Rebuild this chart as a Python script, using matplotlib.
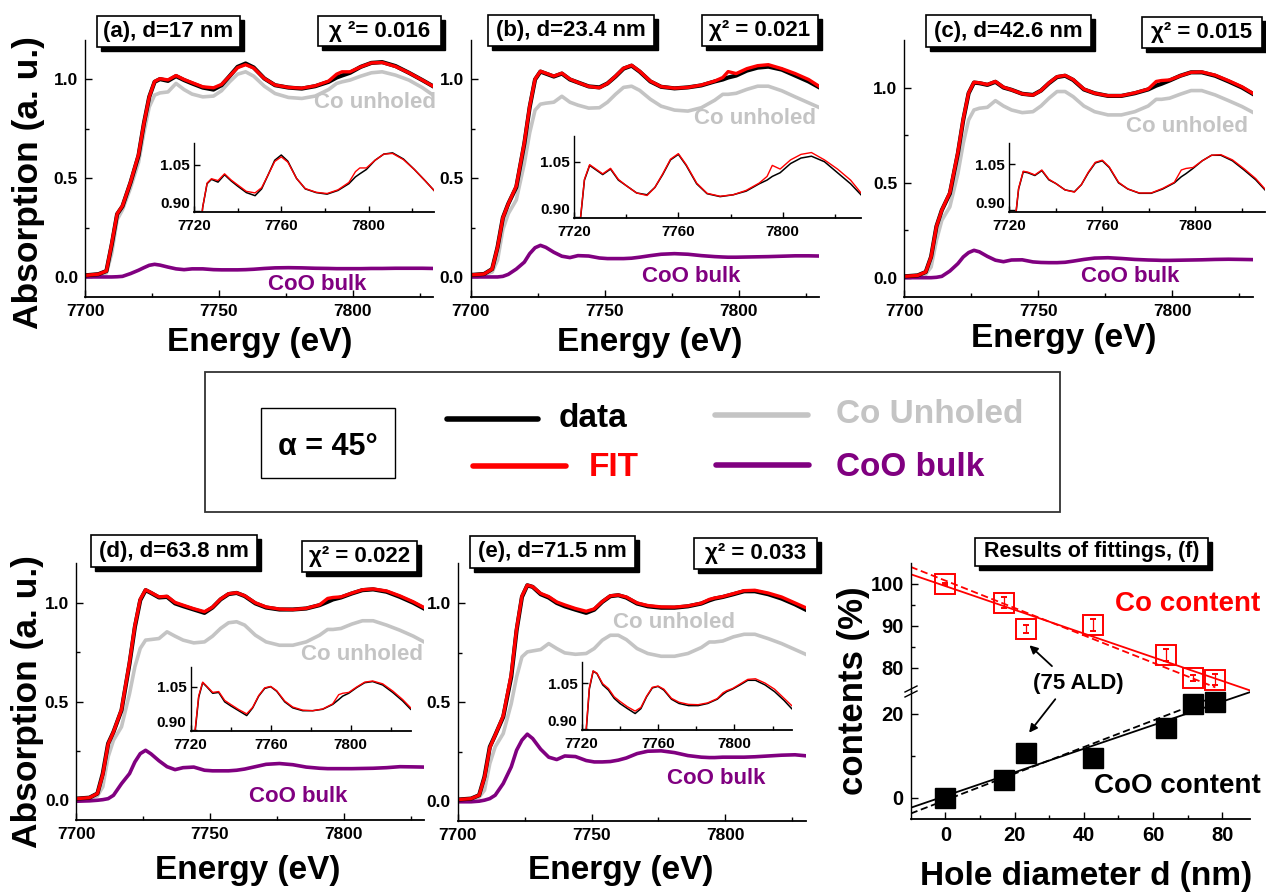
import numpy as np
import matplotlib
matplotlib.use('Agg')
import matplotlib.pyplot as plt
import matplotlib.transforms as mtransforms
from matplotlib.patches import Rectangle
from matplotlib.lines import Line2D

plt.rcParams['font.family'] = ['Liberation Sans', 'DejaVu Sans']
plt.rcParams['font.weight'] = 'bold'

# ---------------- data ----------------
energy = [7700, 7705, 7708, 7710, 7712, 7714, 7717, 7720, 7722, 7724, 7726, 7728, 7731,
          7734, 7737, 7740, 7744, 7748, 7751, 7754, 7757, 7760, 7763, 7767, 7771, 7776,
          7781, 7786, 7791, 7794, 7796, 7799, 7803, 7807, 7811, 7816, 7821, 7826, 7830]

data_a = [0.008, 0.014, 0.030, 0.165, 0.318, 0.358, 0.478, 0.615, 0.777, 0.912, 0.988, 1.002, 0.993,
          1.017, 0.997, 0.980, 0.959, 0.949, 0.971, 1.017, 1.064, 1.081, 1.061, 1.005, 0.971, 0.959,
          0.954, 0.966, 0.988, 1.010, 1.020, 1.034, 1.064, 1.084, 1.088, 1.068, 1.034, 0.997, 0.966]
fit_a = [0.008, 0.014, 0.030, 0.170, 0.320, 0.360, 0.480, 0.620, 0.777, 0.912, 0.990, 1.004, 0.998,
         1.020, 1.000, 0.984, 0.963, 0.958, 0.975, 1.017, 1.060, 1.075, 1.058, 1.005, 0.972, 0.960,
         0.956, 0.968, 0.992, 1.027, 1.039, 1.039, 1.064, 1.084, 1.086, 1.066, 1.034, 0.997, 0.966]
unholed_a = [0.006, 0.010, 0.020, 0.120, 0.290, 0.340, 0.450, 0.580, 0.730, 0.861, 0.921, 0.932, 0.937,
             0.980, 0.949, 0.926, 0.912, 0.916, 0.943, 0.988, 1.027, 1.039, 1.017, 0.966, 0.929, 0.909,
             0.904, 0.916, 0.949, 0.980, 0.988, 0.997, 1.017, 1.034, 1.039, 1.022, 0.997, 0.959, 0.921]
coo_a = [0.000, 0.000, 0.000, 0.000, 0.001, 0.003, 0.017, 0.034, 0.047, 0.059, 0.064, 0.060, 0.050,
         0.041, 0.037, 0.041, 0.041, 0.037, 0.036, 0.036, 0.036, 0.037, 0.039, 0.043, 0.046, 0.047,
         0.046, 0.044, 0.043, 0.042, 0.042, 0.042, 0.042, 0.043, 0.043, 0.044, 0.044, 0.044, 0.043]

data_b = [0.010, 0.015, 0.040, 0.150, 0.300, 0.370, 0.455, 0.675, 0.860, 1.000, 1.040, 1.030, 1.015,
          1.030, 1.000, 0.985, 0.965, 0.960, 0.980, 1.015, 1.055, 1.070, 1.040, 0.990, 0.963, 0.955,
          0.960, 0.970, 0.990, 1.000, 1.010, 1.020, 1.045, 1.060, 1.065, 1.050, 1.020, 0.990, 0.960]
fit_b = [0.010, 0.015, 0.040, 0.150, 0.300, 0.370, 0.460, 0.680, 0.865, 1.002, 1.042, 1.032, 1.017,
         1.032, 1.002, 0.985, 0.965, 0.958, 0.980, 1.017, 1.057, 1.072, 1.042, 0.992, 0.964, 0.956,
         0.960, 0.972, 0.992, 1.010, 1.040, 1.030, 1.055, 1.070, 1.075, 1.055, 1.030, 1.000, 0.965]
unholed_b = [0.008, 0.012, 0.025, 0.085, 0.240, 0.320, 0.390, 0.575, 0.730, 0.845, 0.875, 0.880, 0.885,
             0.915, 0.885, 0.870, 0.855, 0.857, 0.885, 0.925, 0.960, 0.966, 0.945, 0.900, 0.865, 0.845,
             0.840, 0.857, 0.895, 0.925, 0.925, 0.930, 0.950, 0.966, 0.966, 0.943, 0.912, 0.882, 0.858]
coo_b = [0.000, 0.000, 0.000, 0.000, 0.003, 0.013, 0.040, 0.075, 0.118, 0.148, 0.160, 0.150, 0.125,
         0.105, 0.098, 0.108, 0.106, 0.096, 0.093, 0.093, 0.093, 0.095, 0.100, 0.108, 0.115, 0.118,
         0.115, 0.108, 0.103, 0.101, 0.100, 0.100, 0.101, 0.102, 0.103, 0.105, 0.107, 0.107, 0.106]

data_c = [0.007, 0.012, 0.030, 0.110, 0.270, 0.355, 0.443, 0.654, 0.830, 0.970, 1.026, 1.023, 1.014,
          1.030, 1.000, 0.988, 0.967, 0.961, 0.984, 1.023, 1.055, 1.062, 1.040, 0.990, 0.970, 0.956,
          0.956, 0.970, 0.990, 1.010, 1.020, 1.037, 1.062, 1.080, 1.080, 1.062, 1.032, 1.000, 0.967]
fit_c = [0.007, 0.012, 0.030, 0.110, 0.270, 0.355, 0.448, 0.660, 0.835, 0.972, 1.028, 1.025, 1.016,
         1.032, 1.002, 0.988, 0.967, 0.960, 0.984, 1.025, 1.057, 1.064, 1.042, 0.992, 0.970, 0.957,
         0.957, 0.972, 0.992, 1.032, 1.037, 1.040, 1.062, 1.080, 1.082, 1.065, 1.036, 1.004, 0.970]
unholed_c = [0.005, 0.008, 0.018, 0.056, 0.197, 0.302, 0.373, 0.548, 0.707, 0.830, 0.882, 0.891, 0.896,
             0.931, 0.903, 0.882, 0.868, 0.873, 0.903, 0.944, 0.979, 0.979, 0.952, 0.903, 0.873, 0.856,
             0.856, 0.873, 0.903, 0.938, 0.938, 0.944, 0.965, 0.984, 0.984, 0.961, 0.931, 0.900, 0.870]
coo_c = [0.000, 0.000, 0.000, 0.000, 0.002, 0.007, 0.035, 0.074, 0.109, 0.132, 0.144, 0.136, 0.112,
         0.092, 0.084, 0.093, 0.094, 0.083, 0.080, 0.079, 0.079, 0.081, 0.087, 0.096, 0.103, 0.105,
         0.101, 0.096, 0.093, 0.092, 0.091, 0.091, 0.092, 0.093, 0.094, 0.096, 0.097, 0.096, 0.095]

data_d = [0.008, 0.013, 0.034, 0.135, 0.287, 0.346, 0.456, 0.693, 0.878, 1.013, 1.064, 1.050, 1.027,
          1.030, 0.997, 0.983, 0.966, 0.949, 0.976, 1.017, 1.044, 1.050, 1.034, 0.997, 0.976, 0.966,
          0.966, 0.971, 0.988, 1.005, 1.017, 1.027, 1.047, 1.064, 1.068, 1.056, 1.030, 1.000, 0.971]
fit_d = [0.008, 0.013, 0.034, 0.130, 0.285, 0.346, 0.460, 0.700, 0.885, 1.018, 1.066, 1.052, 1.030,
         1.033, 1.002, 0.988, 0.970, 0.955, 0.978, 1.019, 1.046, 1.051, 1.036, 1.000, 0.979, 0.968,
         0.966, 0.972, 0.990, 1.022, 1.027, 1.030, 1.049, 1.066, 1.070, 1.060, 1.035, 1.005, 0.976]
unholed_d = [0.006, 0.010, 0.022, 0.068, 0.220, 0.304, 0.372, 0.540, 0.676, 0.769, 0.811, 0.814, 0.819,
             0.853, 0.831, 0.811, 0.797, 0.802, 0.831, 0.870, 0.899, 0.904, 0.887, 0.836, 0.802, 0.785,
             0.785, 0.802, 0.836, 0.865, 0.865, 0.870, 0.892, 0.909, 0.909, 0.887, 0.861, 0.831, 0.802]
coo_d = [-0.005, -0.003, 0.000, 0.003, 0.008, 0.025, 0.084, 0.135, 0.194, 0.236, 0.253, 0.235, 0.200,
         0.170, 0.155, 0.165, 0.168, 0.152, 0.149, 0.149, 0.149, 0.152, 0.158, 0.170, 0.182, 0.186,
         0.180, 0.168, 0.162, 0.160, 0.160, 0.160, 0.160, 0.161, 0.162, 0.165, 0.170, 0.169, 0.168]

data_e = [0.008, 0.013, 0.030, 0.123, 0.274, 0.333, 0.425, 0.627, 0.862, 1.030, 1.089, 1.081, 1.044,
          1.027, 1.000, 0.983, 0.966, 0.950, 0.966, 1.005, 1.034, 1.039, 1.027, 0.997, 0.983, 0.976,
          0.976, 0.983, 0.997, 1.013, 1.022, 1.030, 1.044, 1.059, 1.059, 1.044, 1.022, 0.993, 0.966]
fit_e = [0.008, 0.013, 0.030, 0.120, 0.270, 0.333, 0.430, 0.640, 0.870, 1.035, 1.090, 1.082, 1.048,
         1.032, 1.005, 0.990, 0.972, 0.958, 0.970, 1.007, 1.036, 1.040, 1.030, 1.000, 0.987, 0.980,
         0.979, 0.985, 0.999, 1.018, 1.025, 1.032, 1.047, 1.062, 1.064, 1.050, 1.030, 1.000, 0.976]
unholed_e = [0.006, 0.010, 0.020, 0.055, 0.190, 0.274, 0.341, 0.492, 0.627, 0.728, 0.753, 0.758, 0.765,
             0.795, 0.770, 0.748, 0.741, 0.745, 0.770, 0.812, 0.837, 0.837, 0.815, 0.770, 0.745, 0.731,
             0.731, 0.745, 0.775, 0.803, 0.803, 0.808, 0.829, 0.842, 0.842, 0.820, 0.795, 0.765, 0.741]
coo_e = [-0.003, -0.003, 0.000, 0.005, 0.013, 0.030, 0.089, 0.173, 0.257, 0.308, 0.338, 0.316, 0.262,
         0.222, 0.210, 0.228, 0.225, 0.205, 0.198, 0.198, 0.200, 0.207, 0.218, 0.240, 0.252, 0.254,
         0.245, 0.230, 0.222, 0.220, 0.220, 0.222, 0.222, 0.222, 0.224, 0.228, 0.232, 0.234, 0.229]

panel_labels = ['(a), d=17 nm', '(b), d=23.4 nm', '(c), d=42.6 nm', '(d), d=63.8 nm', '(e), d=71.5 nm']
chi_labels = ['\u03c7 \u00b2= 0.016', '\u03c7\u00b2 = 0.021', '\u03c7\u00b2 = 0.015',
              '\u03c7\u00b2 = 0.022', '\u03c7\u00b2 = 0.033']

# panel (f)
hole_d = [0, 17, 23.4, 42.6, 63.8, 71.5, 78]
co_content = [100, 95.5, 89.2, 90.2, 83.0, 77.5, 77.1]
co_err = [0.3, 1.3, 1.0, 1.5, 1.5, 0.8, 1.3]
coo_content = [0, 4.35, 10.8, 9.6, 16.6, 22.4, 22.7]
co_dash_fit = (-0.327, 100.8)    # slope, intercept of dashed line
coo_dash_fit = (0.316, -0.54)

GRAY = '#c4c4c4'
PURPLE = '#800080'

# ---------------- figure ----------------
W, H = 1266, 893
fig = plt.figure(figsize=(W / 100, H / 100), dpi=100)


def rect(l, t, r, b):
    return [l / W, 1 - b / H, (r - l) / W, (b - t) / H]


def fx(x):
    return x / W


def fy(y):
    return 1 - y / H


def style_axes(ax, lab_fs, major=5, minor=3, pad=5):
    for s in ('top', 'right'):
        ax.spines[s].set_visible(False)
    ax.spines['left'].set_linewidth(1.0)
    ax.spines['bottom'].set_linewidth(1.3)
    ax.tick_params(which='both', direction='in', width=1.0, labelsize=lab_fs, pad=pad)
    ax.tick_params(which='major', length=major)
    ax.tick_params(which='minor', length=minor)
    for t in ax.get_xticklabels() + ax.get_yticklabels():
        t.set_fontweight('bold')


def shadow_box(l, t, r, b, text, fs, off=4, shadow=True, lw=1.2):
    if shadow:
        fig.patches.append(Rectangle((fx(l + off), fy(b + off)), (r - l) / W, (b - t) / H,
                                     transform=fig.transFigure, facecolor='black',
                                     edgecolor='black', zorder=5))
    fig.patches.append(Rectangle((fx(l), fy(b)), (r - l) / W, (b - t) / H,
                                 transform=fig.transFigure, facecolor='white',
                                 edgecolor='black', lw=lw, zorder=6))
    fig.text(fx((l + r) / 2), fy((t + b) / 2), text, ha='center', va='center',
             fontsize=fs, fontweight='bold', zorder=7)


def spectrum_panel(main_box, inset_box, ylim, data, fit, unholed, coo,
                   label, label_box, chi, chi_box, unh_pos, coo_pos, xl_pos, yl_pos=None):
    ax = fig.add_axes(rect(*main_box))
    ax.plot(energy, unholed, color=GRAY, lw=2.6, solid_joinstyle='round')
    ax.plot(energy, coo, color=PURPLE, lw=2.6, solid_joinstyle='round')
    ax.plot(energy, data, color='black', lw=3.0, solid_joinstyle='round')
    ax.plot(energy, fit, color='red', lw=2.4, solid_joinstyle='round')
    ax.set_xlim(7700, 7830)
    ax.set_ylim(*ylim)
    ax.set_xticks([7700, 7750, 7800])
    ax.set_xticks([7725, 7775, 7825], minor=True)
    ax.set_yticks([0.0, 0.5, 1.0])
    ax.set_yticklabels(['0.0', '0.5', '1.0'])
    ax.set_yticks([0.25, 0.75], minor=True)
    ax.set_facecolor('none')
    style_axes(ax, 12.5)

    axi = fig.add_axes(rect(*inset_box))
    axi.plot(energy, data, color='black', lw=1.1, solid_joinstyle='round')
    axi.plot(energy, fit, color='red', lw=1.0, solid_joinstyle='round')
    axi.set_xlim(7720, 7830)
    axi.set_ylim(0.896, 1.12)
    axi.set_xticks([7720, 7760, 7800])
    axi.set_xticks([7740, 7780, 7820], minor=True)
    axi.set_yticks([0.90, 1.05])
    axi.set_yticklabels(['0.90', '1.05'])
    axi.set_facecolor('none')
    style_axes(axi, 11, major=4, minor=3, pad=3)
    axi.tick_params(axis='x', pad=5)
    low = axi.get_yticklabels()[0]
    low.set_transform(low.get_transform() +
                      mtransforms.ScaledTranslation(0, 6 / 72, fig.dpi_scale_trans))

    fig.text(fx(unh_pos[0]), fy(unh_pos[1]), 'Co unholed', color=GRAY, fontsize=16,
             fontweight='bold', ha='center', va='center')
    fig.text(fx(coo_pos[0]), fy(coo_pos[1]), 'CoO bulk', color=PURPLE, fontsize=16,
             fontweight='bold', ha='center', va='center')
    fig.text(fx(xl_pos[0]), fy(xl_pos[1]), 'Energy (eV)', fontsize=24, fontweight='bold',
             ha='center', va='center')
    if yl_pos is not None:
        fig.text(fx(yl_pos[0]), fy(yl_pos[1]), 'Absorption (a. u.)', fontsize=25.5,
                 fontweight='bold', ha='center', va='center', rotation=90)
    shadow_box(*label_box, label, 16)
    shadow_box(*chi_box, chi, 16)


spectrum_panel((85, 40, 433, 296.7), (194, 143, 434, 212), (-0.1, 1.2),
               data_a, fit_a, unholed_a, coo_a,
               panel_labels[0], (97, 16, 240, 47), chi_labels[0], (318, 16, 441, 46),
               (375, 103), (317, 285), (260, 342), (29, 183))
spectrum_panel((470.7, 40, 819.3, 296.7), (574, 136, 861, 218.3), (-0.1, 1.2),
               data_b, fit_b, unholed_b, coo_b,
               panel_labels[1], (488, 15, 654, 46), chi_labels[1], (702, 15, 818, 46),
               (755, 119), (691, 277), (650, 343))
spectrum_panel((904.3, 40, 1252.7, 296.7), (1009.3, 143, 1265, 211.7), (-0.1, 1.25),
               data_c, fit_c, unholed_c, coo_c,
               panel_labels[2], (926, 15, 1091, 47), chi_labels[2], (1142, 17, 1262, 48),
               (1187, 126), (1130, 276), (1064, 338))
spectrum_panel((76, 563.3, 424, 820), (190.7, 666.7, 410.7, 730.7), (-0.1, 1.2),
               data_d, fit_d, unholed_d, coo_d,
               panel_labels[3], (91, 535, 257, 567), chi_labels[3], (302, 541, 417, 572),
               (362, 655), (298, 797), (248, 870), (28, 702))
spectrum_panel((457.7, 563.3, 805.7, 821), (581.7, 661.7, 791.7, 730), (-0.1, 1.2),
               data_e, fit_e, unholed_e, coo_e,
               panel_labels[4], (470, 536, 635, 568), chi_labels[4], (694, 538, 817, 569),
               (674, 623), (716, 778), (621, 870))

# ---------------- legend box ----------------
fig.patches.append(Rectangle((fx(205), fy(512)), (1060 - 205) / W, (512 - 372) / H,
                             transform=fig.transFigure, facecolor='white',
                             edgecolor='#333333', lw=1.3, zorder=5))
fig.patches.append(Rectangle((fx(261), fy(478)), (395 - 261) / W, (478 - 408) / H,
                             transform=fig.transFigure, facecolor='white',
                             edgecolor='black', lw=1.0, zorder=6))
fig.text(fx(328), fy(447), '\u03b1 = 45\u00b0', fontsize=22, fontweight='bold',
         ha='center', va='center', zorder=7)
leg_items = [((447, 538, 419), 'black', 'data', (559, 419)),
             ((473, 566, 466), 'red', 'FIT', (589, 468)),
             ((715, 808, 415), GRAY, 'Co Unholed', (836, 414)),
             ((716, 809, 465), PURPLE, 'CoO bulk', (836, 467))]
for (x0, x1, yy), col, txt, (tx, ty) in leg_items:
    fig.lines.append(Line2D([fx(x0), fx(x1)], [fy(yy), fy(yy)], transform=fig.transFigure,
                            color=col, lw=4, solid_capstyle='round', zorder=7))
    fig.text(fx(tx), fy(ty), txt, color=col, fontsize=24, fontweight='bold',
             ha='left', va='center', zorder=7)

# ---------------- panel (f) ----------------
axl = fig.add_axes(rect(910.7, 690.7, 1250, 819))
axu = fig.add_axes(rect(910.7, 563, 1250, 690.7))
for a in (axl, axu):
    a.set_xlim(-10, 88)
    a.set_facecolor('none')
axl.set_ylim(-5, 25.5)
axu.set_ylim(74.5, 105)

xfull = np.array([-10, 88])
xdash = np.array([-10, 78])
p_co = np.polyfit(hole_d, co_content, 1)
p_coo = np.polyfit(hole_d, coo_content, 1)
axu.plot(xfull, np.polyval(p_co, xfull), color='red', lw=1.3)
axu.plot(xdash, co_dash_fit[0] * xdash + co_dash_fit[1], color='red', lw=1.3, ls=(0, (4, 2)))
axl.plot(xfull, np.polyval(p_coo, xfull), color='black', lw=1.3)
axl.plot(xdash, coo_dash_fit[0] * xdash + coo_dash_fit[1], color='black', lw=1.3, ls=(0, (4, 2)))

axu.errorbar(hole_d, co_content, yerr=co_err, fmt='s', mfc='none', mec='red', ms=14, mew=1.4,
             ecolor='red', elinewidth=0.9, capsize=2.5, capthick=0.9)
axl.plot(hole_d, coo_content, 's', color='black', ms=14)

axl.set_xticks([0, 20, 40, 60, 80])
axl.set_xticks([10, 30, 50, 70], minor=True)
axl.set_yticks([0, 20])
axl.set_yticks([10], minor=True)
axu.set_yticks([80, 90, 100])
axu.set_yticks([85, 95], minor=True)
style_axes(axl, 14.5, major=5, minor=3)
style_axes(axu, 14.5, major=5, minor=3)
axl.spines['top'].set_visible(False)
axu.spines['bottom'].set_visible(False)
axu.tick_params(axis='x', which='both', bottom=False, labelbottom=False)

# break marks
for yy in (689, 694):
    fig.lines.append(Line2D([fx(905), fx(917)], [fy(yy + 3), fy(yy - 3)],
                            transform=fig.transFigure, color='black', lw=1.0, zorder=8))

fig.text(fx(1188), fy(604), 'Co content', color='red', fontsize=20, fontweight='bold',
         ha='center', va='center')
fig.text(fx(1177), fy(786), 'CoO content', color='black', fontsize=20, fontweight='bold',
         ha='center', va='center')
fig.text(fx(1078), fy(683), '(75 ALD)', fontsize=16, fontweight='bold', ha='center', va='center')
axu.annotate('', xy=(23.7, 85.8), xycoords='data', xytext=(fx(1054), fy(668)),
             textcoords='figure fraction',
             arrowprops=dict(arrowstyle='-|>', color='black', lw=1.3, mutation_scale=12))
axl.annotate('', xy=(23.7, 15.0), xycoords='data', xytext=(fx(1057), fy(697)),
             textcoords='figure fraction',
             arrowprops=dict(arrowstyle='-|>', color='black', lw=1.3, mutation_scale=12))

fig.text(fx(854), fy(691), 'contents (%)', fontsize=25, fontweight='bold',
         ha='center', va='center', rotation=90)
fig.text(fx(1086), fy(877), 'Hole diameter d (nm)', fontsize=24, fontweight='bold',
         ha='center', va='center')
shadow_box(975, 538, 1208, 566, 'Results of fittings, (f)', 15.5)

fig.savefig('out.png', dpi=100)
